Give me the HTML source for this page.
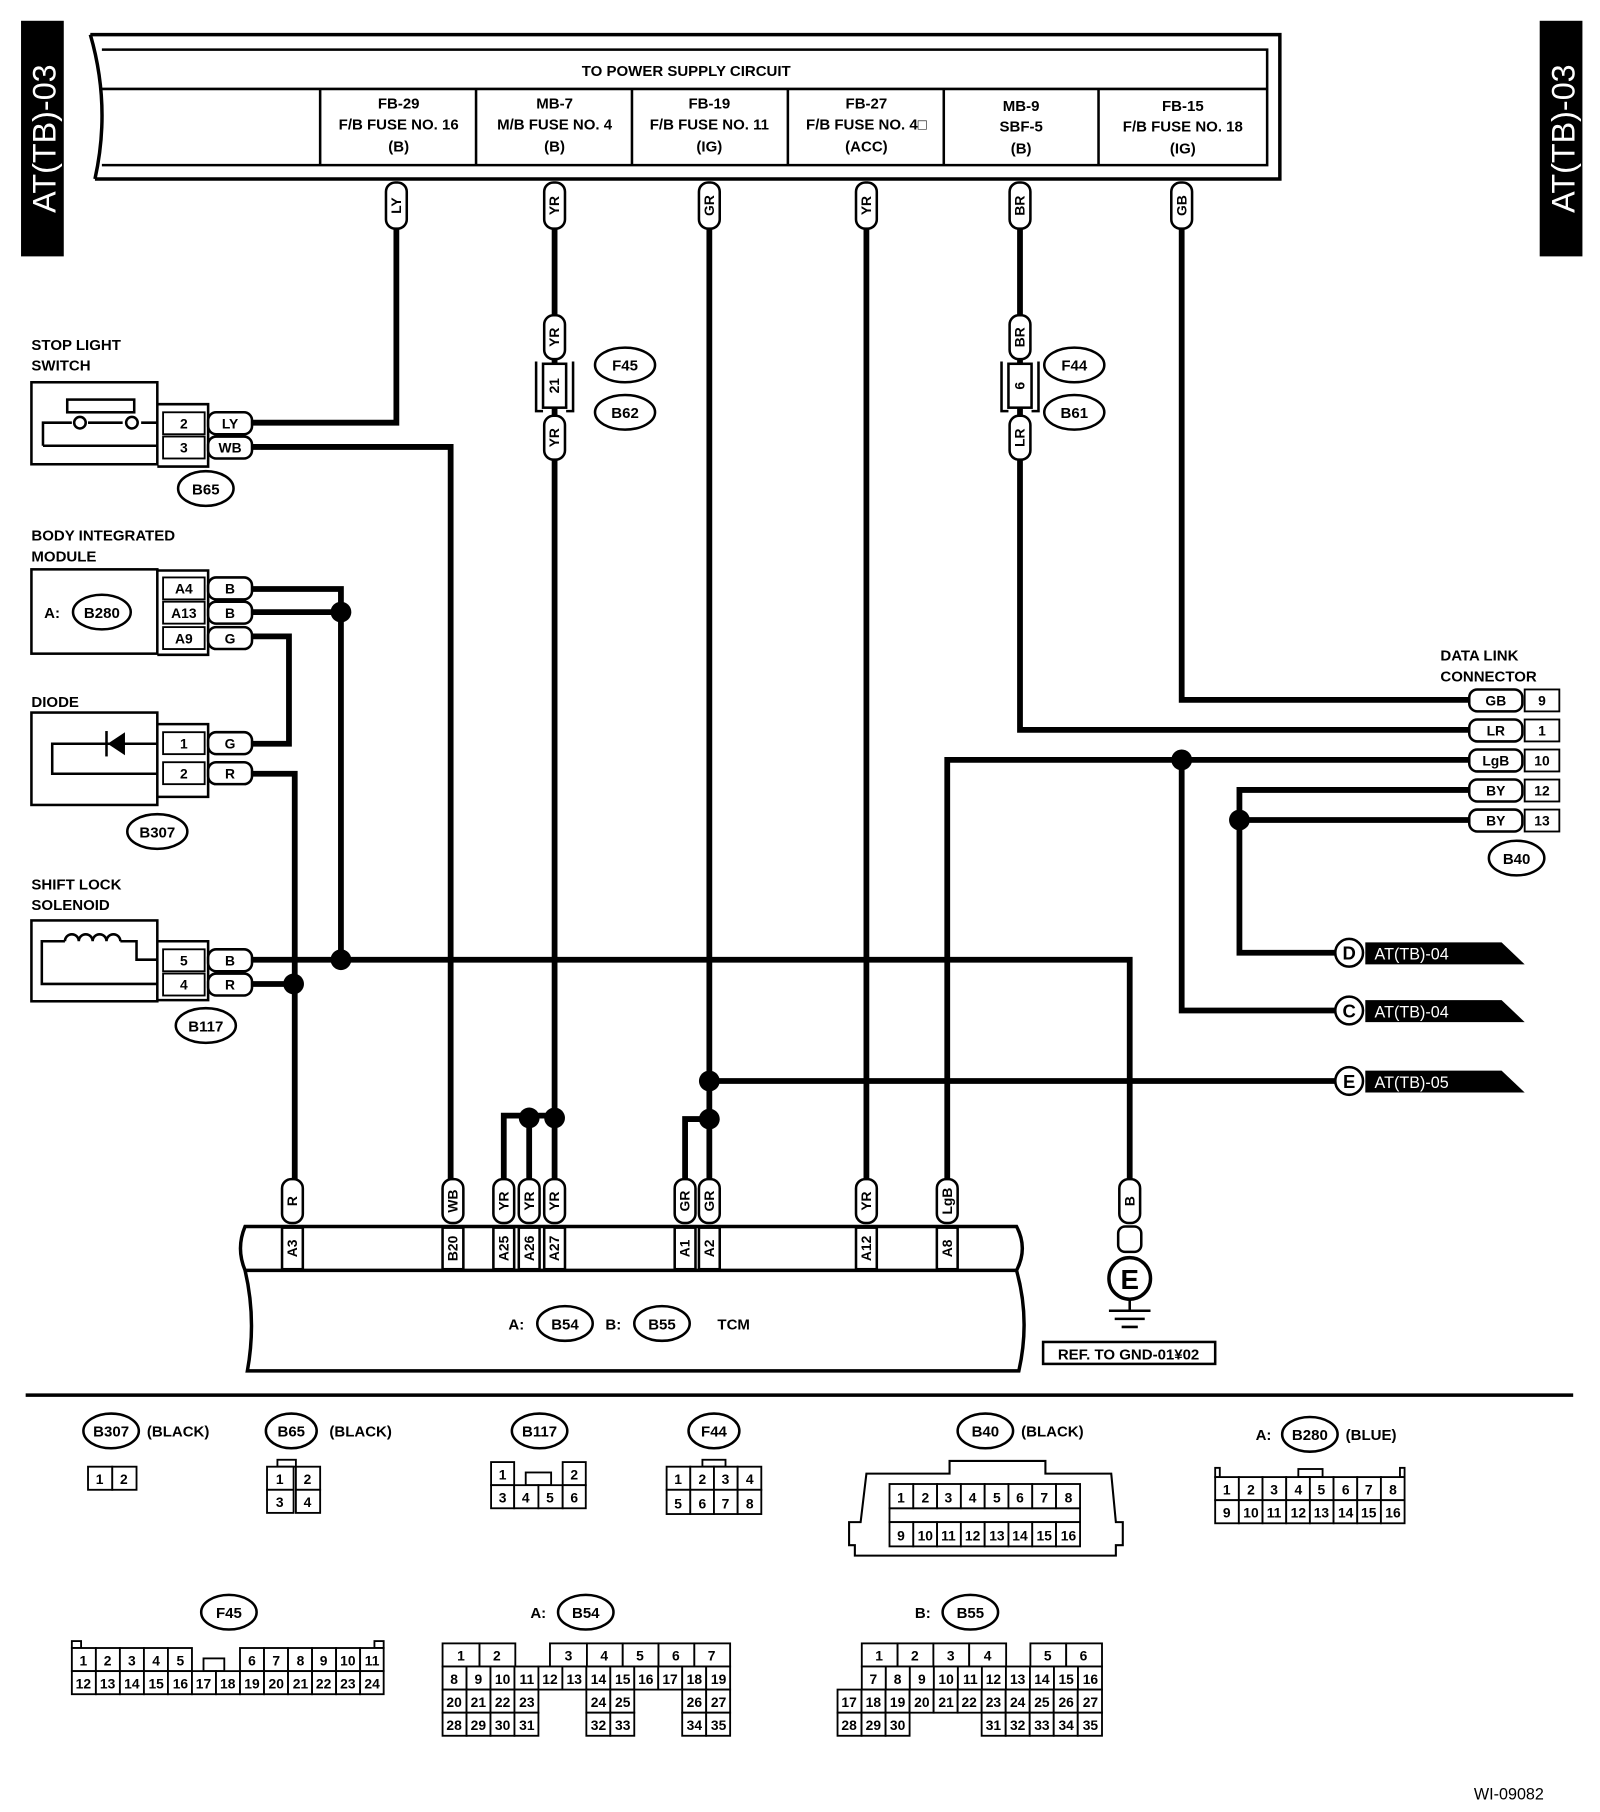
<!DOCTYPE html>
<html><head><meta charset="utf-8"><style>
html,body{margin:0;padding:0;background:#fff}
svg{display:block}
text{font-family:"Liberation Sans",sans-serif;font-weight:bold;font-size:13px;fill:#000}
.c{text-anchor:middle}
.w{stroke:#000;stroke-width:5;fill:none}
.t rect{fill:#fff;stroke:#000;stroke-width:2.2}
.t text{text-anchor:middle;font-size:12px}
.g rect{fill:#fff;stroke:#000;stroke-width:1.6}
.g text{text-anchor:middle;font-size:12px}
.o{fill:#fff;stroke:#000;stroke-width:2.2}
.b{fill:none;stroke:#000;stroke-width:2.2}
</style></head><body>
<svg width="1600" height="1812" viewBox="0 0 1385 1569" xmlns="http://www.w3.org/2000/svg">
<!-- side tabs -->
<rect x="18" y="18" width="37" height="204" fill="#000"/>
<text transform="translate(48,120) rotate(-90)" class="c" style="fill:#fff;font-size:28px;font-weight:normal">AT(TB)-03</text>
<rect x="1333" y="18" width="37" height="204" fill="#000"/>
<text transform="translate(1363,120) rotate(-90)" class="c" style="fill:#fff;font-size:28px;font-weight:normal">AT(TB)-03</text>

<!-- top power box -->
<path d="M78,30 L1108,30 L1108,155 L82,155" class="b" style="stroke-width:3"/>
<path d="M78,30 Q96,92 82,155" class="b" style="stroke-width:3"/>
<path d="M88,43 L1097,43 L1097,143 L88,143 M88,77 L1097,77" class="b"/>
<path d="M277,77V143 M412,77V143 M547,77V143 M682,77V143 M817,77V143 M951,77V143" class="b"/>
<text x="594" y="66" class="c" style="font-size:13px">TO POWER SUPPLY CIRCUIT</text>
<g style="font-size:13px">
<text x="345" y="94" class="c">FB-29</text><text x="345" y="112" class="c">F/B FUSE NO. 16</text><text x="345" y="131" class="c">(B)</text>
<text x="480" y="94" class="c">MB-7</text><text x="480" y="112" class="c">M/B FUSE NO. 4</text><text x="480" y="131" class="c">(B)</text>
<text x="614" y="94" class="c">FB-19</text><text x="614" y="112" class="c">F/B FUSE NO. 11</text><text x="614" y="131" class="c">(IG)</text>
<text x="750" y="94" class="c">FB-27</text><text x="750" y="112" class="c">F/B FUSE NO. 4□</text><text x="750" y="131" class="c">(ACC)</text>
<text x="884" y="96" class="c">MB-9</text><text x="884" y="114" class="c">SBF-5</text><text x="884" y="133" class="c">(B)</text>
<text x="1024" y="96" class="c">FB-15</text><text x="1024" y="114" class="c">F/B FUSE NO. 18</text><text x="1024" y="133" class="c">(IG)</text>
</g>

<!-- wires -->
<path class="w" d="M343,198 V366 H218"/>
<path class="w" d="M218,387 H390 V1022"/>
<path class="w" d="M480,198 V1022"/>
<path class="w" d="M614,198 V1022"/>
<path class="w" d="M750,198 V1022"/>
<path class="w" d="M883,198 V632 H1272"/>
<path class="w" d="M1023,198 V606 H1272"/>
<path class="w" d="M820,1022 V658 H1272"/>
<path class="w" d="M1023,658 V875 H1160"/>
<path class="w" d="M1272,684 H1073 V825 H1160"/>
<path class="w" d="M1272,710 H1073"/>
<path class="w" d="M614,936 H1160"/>
<path class="w" d="M593,1022 V969 H614"/>
<path class="w" d="M436,1022 V966 H480"/>
<path class="w" d="M458,1022 V966"/>
<path class="w" d="M218,510 H295 V831"/>
<path class="w" d="M218,530 H295"/>
<path class="w" d="M218,551 H250 V644 H218"/>
<path class="w" d="M218,670 H255 V1022"/>
<path class="w" d="M218,831 H978 V1022"/>
<path class="w" d="M218,852 H255"/>
<g fill="#000">
<circle cx="295" cy="530" r="9"/><circle cx="295" cy="831" r="9"/><circle cx="254" cy="852" r="9"/>
<circle cx="458" cy="968" r="9"/><circle cx="480" cy="968" r="9"/><circle cx="614" cy="936" r="9"/><circle cx="614" cy="969" r="9"/>
<circle cx="1023" cy="658" r="9"/><circle cx="1073" cy="710" r="9"/>
</g>

<!-- vertical tags -->
<g class="t">
<g transform="translate(343,178)"><rect x="-9" y="-20" width="18" height="40" rx="8"/><text transform="rotate(-90)" y="4">LY</text></g>
<g transform="translate(480,178)"><rect x="-9" y="-20" width="18" height="40" rx="8"/><text transform="rotate(-90)" y="4">YR</text></g>
<g transform="translate(614,178)"><rect x="-9" y="-20" width="18" height="40" rx="8"/><text transform="rotate(-90)" y="4">GR</text></g>
<g transform="translate(750,178)"><rect x="-9" y="-20" width="18" height="40" rx="8"/><text transform="rotate(-90)" y="4">YR</text></g>
<g transform="translate(883,178)"><rect x="-9" y="-20" width="18" height="40" rx="8"/><text transform="rotate(-90)" y="4">BR</text></g>
<g transform="translate(1023,178)"><rect x="-9" y="-20" width="18" height="40" rx="8"/><text transform="rotate(-90)" y="4">GB</text></g>
<g transform="translate(480,292)"><rect x="-9" y="-19" width="18" height="38" rx="8"/><text transform="rotate(-90)" y="4">YR</text></g>
<g transform="translate(480,379)"><rect x="-9" y="-19" width="18" height="38" rx="8"/><text transform="rotate(-90)" y="4">YR</text></g>
<g transform="translate(883,292)"><rect x="-9" y="-19" width="18" height="38" rx="8"/><text transform="rotate(-90)" y="4">BR</text></g>
<g transform="translate(883,379)"><rect x="-9" y="-19" width="18" height="38" rx="8"/><text transform="rotate(-90)" y="4">LR</text></g>
<g transform="translate(253,1040)"><rect x="-9" y="-19" width="18" height="38" rx="8"/><text transform="rotate(-90)" y="4">R</text></g>
<g transform="translate(392,1040)"><rect x="-9" y="-19" width="18" height="38" rx="8"/><text transform="rotate(-90)" y="4">WB</text></g>
<g transform="translate(436,1040)"><rect x="-9" y="-19" width="18" height="38" rx="8"/><text transform="rotate(-90)" y="4">YR</text></g>
<g transform="translate(458,1040)"><rect x="-9" y="-19" width="18" height="38" rx="8"/><text transform="rotate(-90)" y="4">YR</text></g>
<g transform="translate(480,1040)"><rect x="-9" y="-19" width="18" height="38" rx="8"/><text transform="rotate(-90)" y="4">YR</text></g>
<g transform="translate(593,1040)"><rect x="-9" y="-19" width="18" height="38" rx="8"/><text transform="rotate(-90)" y="4">GR</text></g>
<g transform="translate(614,1040)"><rect x="-9" y="-19" width="18" height="38" rx="8"/><text transform="rotate(-90)" y="4">GR</text></g>
<g transform="translate(750,1040)"><rect x="-9" y="-19" width="18" height="38" rx="8"/><text transform="rotate(-90)" y="4">YR</text></g>
<g transform="translate(820,1040)"><rect x="-9" y="-19" width="18" height="38" rx="8"/><text transform="rotate(-90)" y="4">LgB</text></g>
<g transform="translate(978,1040)"><rect x="-9" y="-19" width="18" height="38" rx="8"/><text transform="rotate(-90)" y="4">B</text></g>
</g>
<!-- F45/B62 and F44/B61 inline connectors -->
<rect x="470" y="315" width="20" height="38" class="o"/><text transform="translate(480,334) rotate(-90)" y="4" class="c" style="font-size:12px">21</text>
<path d="M464,313 V356 H470 M496,313 V356 H490" class="b"/>
<rect x="873" y="315" width="20" height="38" class="o"/><text transform="translate(883,334) rotate(-90)" y="4" class="c" style="font-size:12px">6</text>
<path d="M867,313 V356 H873 M899,313 V356 H893" class="b"/>
<g>
<ellipse cx="541" cy="316" rx="26" ry="15" class="o"/><text x="541" y="321" class="c">F45</text>
<ellipse cx="541" cy="357" rx="26" ry="15" class="o"/><text x="541" y="362" class="c">B62</text>
<ellipse cx="930" cy="316" rx="26" ry="15" class="o"/><text x="930" y="321" class="c">F44</text>
<ellipse cx="930" cy="357" rx="26" ry="15" class="o"/><text x="930" y="362" class="c">B61</text>
<ellipse cx="178" cy="423" rx="24" ry="15" class="o"/><text x="178" y="428" class="c">B65</text>
<ellipse cx="136" cy="720" rx="26" ry="15" class="o"/><text x="136" y="725" class="c">B307</text>
<ellipse cx="178" cy="888" rx="26" ry="15" class="o"/><text x="178" y="893" class="c">B117</text>
<ellipse cx="1313" cy="743" rx="24" ry="15" class="o"/><text x="1313" y="748" class="c">B40</text>
</g>

<!-- Stop light switch -->
<text x="27" y="303">STOP LIGHT</text><text x="27" y="321">SWITCH</text>
<rect x="27" y="331" width="109" height="71" class="o"/>
<rect x="58" y="346" width="58" height="11" class="o"/>
<path d="M37,386 V366 H62 M76,366 H106 M122,366 H136 M37,386 H136" class="b"/>
<circle cx="69" cy="366" r="5" class="o"/><circle cx="114" cy="366" r="5" class="o"/>
<path d="M136,350 H180 V404 H136" class="b"/>
<g class="g"><rect x="141" y="357" width="36" height="19"/><text x="159" y="371">2</text><rect x="141" y="378" width="36" height="19"/><text x="159" y="392">3</text></g>
<g class="t"><rect x="180" y="357" width="38" height="19" rx="7"/><text x="199" y="371">LY</text><rect x="180" y="378" width="38" height="19" rx="7"/><text x="199" y="392">WB</text></g>

<!-- BIM -->
<text x="27" y="468">BODY INTEGRATED</text><text x="27" y="486">MODULE</text>
<rect x="27" y="493" width="109" height="73" class="o"/>
<text x="38" y="535">A:</text><ellipse cx="88" cy="530" rx="25" ry="15" class="o"/><text x="88" y="535" class="c">B280</text>
<path d="M136,494 H180 V567 H136" class="b"/>
<g class="g"><rect x="141" y="500" width="36" height="19"/><text x="159" y="514">A4</text><rect x="141" y="521" width="36" height="19"/><text x="159" y="535">A13</text><rect x="141" y="543" width="36" height="19"/><text x="159" y="557">A9</text></g>
<g class="t"><rect x="180" y="500" width="38" height="19" rx="7"/><text x="199" y="514">B</text><rect x="180" y="521" width="38" height="19" rx="7"/><text x="199" y="535">B</text><rect x="180" y="543" width="38" height="19" rx="7"/><text x="199" y="557">G</text></g>

<!-- Diode -->
<text x="27" y="612">DIODE</text>
<rect x="27" y="617" width="109" height="80" class="o"/>
<path d="M136,644 H90 M106,644 H45 V670 H136" class="b"/>
<polygon points="108,634 108,654 93,644" fill="#000"/><path d="M92,633 V655" class="b"/>
<path d="M136,627 H180 V690 H136" class="b"/>
<g class="g"><rect x="141" y="634" width="36" height="19"/><text x="159" y="648">1</text><rect x="141" y="660" width="36" height="19"/><text x="159" y="674">2</text></g>
<g class="t"><rect x="180" y="634" width="38" height="19" rx="7"/><text x="199" y="648">G</text><rect x="180" y="660" width="38" height="19" rx="7"/><text x="199" y="674">R</text></g>

<!-- Shift lock solenoid -->
<text x="27" y="770">SHIFT LOCK</text><text x="27" y="788">SOLENOID</text>
<rect x="27" y="797" width="109" height="70" class="o"/>
<path d="M136,831 H118 V815 H104 M56,815 H36 V852 H136" class="b"/>
<path d="M56,815 a6,6 0 0 1 12,0 a6,6 0 0 1 12,0 a6,6 0 0 1 12,0 a6,6 0 0 1 12,0" class="b"/>
<path d="M136,815 H180 V866 H136" class="b"/>
<g class="g"><rect x="141" y="822" width="36" height="19"/><text x="159" y="836">5</text><rect x="141" y="843" width="36" height="19"/><text x="159" y="857">4</text></g>
<g class="t"><rect x="180" y="822" width="38" height="19" rx="7"/><text x="199" y="836">B</text><rect x="180" y="843" width="38" height="19" rx="7"/><text x="199" y="857">R</text></g>

<!-- Data link connector -->
<text x="1247" y="572">DATA LINK</text><text x="1247" y="590">CONNECTOR</text>
<g class="t">
<rect x="1272" y="597" width="46" height="19" rx="7"/><text x="1295" y="611">GB</text>
<rect x="1272" y="623" width="46" height="19" rx="7"/><text x="1295" y="637">LR</text>
<rect x="1272" y="649" width="46" height="19" rx="7"/><text x="1295" y="663">LgB</text>
<rect x="1272" y="675" width="46" height="19" rx="7"/><text x="1295" y="689">BY</text>
<rect x="1272" y="701" width="46" height="19" rx="7"/><text x="1295" y="715">BY</text>
</g>
<g class="g">
<rect x="1320" y="597" width="30" height="19"/><text x="1335" y="611">9</text>
<rect x="1320" y="623" width="30" height="19"/><text x="1335" y="637">1</text>
<rect x="1320" y="649" width="30" height="19"/><text x="1335" y="663">10</text>
<rect x="1320" y="675" width="30" height="19"/><text x="1335" y="689">12</text>
<rect x="1320" y="701" width="30" height="19"/><text x="1335" y="715">13</text>
</g>

<!-- outputs -->
<g>
<polygon points="1182,816 1300,816 1320,835 1182,835" fill="#000"/><circle cx="1168" cy="825" r="12" class="o"/><text x="1168" y="831" class="c" style="font-size:16px">D</text><text x="1190" y="831" style="fill:#fff;font-weight:normal;font-size:14px">AT(TB)-04</text>
<polygon points="1182,866 1300,866 1320,885 1182,885" fill="#000"/><circle cx="1168" cy="875" r="12" class="o"/><text x="1168" y="881" class="c" style="font-size:16px">C</text><text x="1190" y="881" style="fill:#fff;font-weight:normal;font-size:14px">AT(TB)-04</text>
<polygon points="1182,927 1300,927 1320,946 1182,946" fill="#000"/><circle cx="1168" cy="936" r="12" class="o"/><text x="1168" y="942" class="c" style="font-size:16px">E</text><text x="1190" y="942" style="fill:#fff;font-weight:normal;font-size:14px">AT(TB)-05</text>
</g>

<!-- ground -->
<rect x="968" y="1062" width="20" height="22" rx="6" class="o"/>
<circle cx="978" cy="1107" r="18" class="o" style="stroke-width:3"/><text x="978" y="1116" class="c" style="font-size:24px">E</text>
<path d="M978,1125 V1135 M960,1135 H996 M965,1142 H991 M971,1149 H985" class="b"/>
<rect x="903" y="1162" width="149" height="19" class="o"/><text x="977" y="1177" class="c" style="font-size:13px">REF. TO GND-01¥02</text>

<!-- TCM -->
<path d="M212,1062 L880,1062 Q890,1081 880,1100 L212,1100 Q204,1081 212,1062 Z" class="o" style="stroke-width:3"/>
<path d="M212,1100 Q222,1143 214,1187 L882,1187 Q892,1143 880,1100" class="b" style="stroke-width:3"/>
<g class="t">
<g transform="translate(253,1081)"><rect x="-9" y="-18" width="18" height="36"/><text transform="rotate(-90)" y="4">A3</text></g>
<g transform="translate(392,1081)"><rect x="-9" y="-18" width="18" height="36"/><text transform="rotate(-90)" y="4">B20</text></g>
<g transform="translate(436,1081)"><rect x="-9" y="-18" width="18" height="36"/><text transform="rotate(-90)" y="4">A25</text></g>
<g transform="translate(458,1081)"><rect x="-9" y="-18" width="18" height="36"/><text transform="rotate(-90)" y="4">A26</text></g>
<g transform="translate(480,1081)"><rect x="-9" y="-18" width="18" height="36"/><text transform="rotate(-90)" y="4">A27</text></g>
<g transform="translate(593,1081)"><rect x="-9" y="-18" width="18" height="36"/><text transform="rotate(-90)" y="4">A1</text></g>
<g transform="translate(614,1081)"><rect x="-9" y="-18" width="18" height="36"/><text transform="rotate(-90)" y="4">A2</text></g>
<g transform="translate(750,1081)"><rect x="-9" y="-18" width="18" height="36"/><text transform="rotate(-90)" y="4">A12</text></g>
<g transform="translate(820,1081)"><rect x="-9" y="-18" width="18" height="36"/><text transform="rotate(-90)" y="4">A8</text></g>
</g>
<text x="440" y="1151">A:</text><ellipse cx="489" cy="1146" rx="24" ry="15" class="o"/><text x="489" y="1151" class="c">B54</text>
<text x="524" y="1151">B:</text><ellipse cx="573" cy="1146" rx="24" ry="15" class="o"/><text x="573" y="1151" class="c">B55</text>
<text x="621" y="1151">TCM</text>

<line x1="22" y1="1208" x2="1362" y2="1208" stroke="#000" stroke-width="3"/>

<!-- bottom connector labels -->
<ellipse cx="96" cy="1239" rx="24" ry="15" class="o"/><text x="96" y="1244" class="c">B307</text><text x="127" y="1244">(BLACK)</text>
<ellipse cx="252" cy="1239" rx="22" ry="15" class="o"/><text x="252" y="1244" class="c">B65</text><text x="285" y="1244">(BLACK)</text>
<ellipse cx="467" cy="1239" rx="24" ry="15" class="o"/><text x="467" y="1244" class="c">B117</text>
<ellipse cx="618" cy="1239" rx="22" ry="15" class="o"/><text x="618" y="1244" class="c">F44</text>
<ellipse cx="853" cy="1239" rx="24" ry="15" class="o"/><text x="853" y="1244" class="c">B40</text><text x="884" y="1244">(BLACK)</text>
<text x="1087" y="1247">A:</text><ellipse cx="1134" cy="1242" rx="24" ry="15" class="o"/><text x="1134" y="1247" class="c">B280</text><text x="1165" y="1247">(BLUE)</text>
<ellipse cx="198" cy="1396" rx="24" ry="15" class="o"/><text x="198" y="1401" class="c">F45</text>
<text x="459" y="1401">A:</text><ellipse cx="507" cy="1396" rx="24" ry="15" class="o"/><text x="507" y="1401" class="c">B54</text>
<text x="792" y="1401">B:</text><ellipse cx="840" cy="1396" rx="24" ry="15" class="o"/><text x="840" y="1401" class="c">B55</text>

<g class="g">
<!-- B307 -->
<rect x="76" y="1270" width="21" height="20"/><text x="86" y="1285">1</text><rect x="97" y="1270" width="21" height="20"/><text x="107" y="1285">2</text>
<!-- B65 -->
<rect x="240" y="1264" width="16" height="6"/>
<rect x="231" y="1270" width="23" height="20"/><text x="242" y="1285">1</text><rect x="256" y="1270" width="21" height="20"/><text x="266" y="1285">2</text>
<rect x="231" y="1290" width="23" height="20"/><text x="242" y="1305">3</text><rect x="256" y="1290" width="21" height="20"/><text x="266" y="1305">4</text>
<!-- B117 -->
<rect x="425" y="1266" width="20" height="20"/><text x="435" y="1281">1</text>
<rect x="487" y="1266" width="20" height="20"/><text x="497" y="1281">2</text>
<rect x="455" y="1275" width="22" height="11"/>
<rect x="425" y="1286" width="20" height="20"/><text x="435" y="1301">3</text><rect x="445" y="1286" width="21" height="20"/><text x="455" y="1301">4</text><rect x="466" y="1286" width="21" height="20"/><text x="476" y="1301">5</text><rect x="487" y="1286" width="20" height="20"/><text x="497" y="1301">6</text>
<!-- F44 -->
<rect x="608" y="1264" width="20" height="6"/>
<rect x="577" y="1270" width="20.5" height="20"/><text x="587" y="1285">1</text><rect x="597.5" y="1270" width="20.5" height="20"/><text x="608" y="1285">2</text><rect x="618" y="1270" width="20.5" height="20"/><text x="628" y="1285">3</text><rect x="638.5" y="1270" width="20.5" height="20"/><text x="649" y="1285">4</text>
<rect x="577" y="1290" width="20.5" height="21"/><text x="587" y="1306">5</text><rect x="597.5" y="1290" width="20.5" height="21"/><text x="608" y="1306">6</text><rect x="618" y="1290" width="20.5" height="21"/><text x="628" y="1306">7</text><rect x="638.5" y="1290" width="20.5" height="21"/><text x="649" y="1306">8</text>
</g>
<!-- B40 -->
<polygon points="735,1318 745,1318 750,1276 822,1276 822,1265 905,1265 905,1276 962,1276 966,1318 972,1318 972,1338 966,1338 966,1347 740,1347 740,1338 735,1338" class="o" style="stroke-width:1.8"/>
<g class="g">
<rect x="770" y="1306" width="165" height="12"/>
<rect x="770" y="1285" width="20.6" height="21"/><text x="780" y="1301">1</text><rect x="790.6" y="1285" width="20.6" height="21"/><text x="801" y="1301">2</text><rect x="811.2" y="1285" width="20.6" height="21"/><text x="821" y="1301">3</text><rect x="831.8" y="1285" width="20.6" height="21"/><text x="842" y="1301">4</text><rect x="852.4" y="1285" width="20.6" height="21"/><text x="863" y="1301">5</text><rect x="873" y="1285" width="20.6" height="21"/><text x="883" y="1301">6</text><rect x="893.6" y="1285" width="20.6" height="21"/><text x="904" y="1301">7</text><rect x="914.2" y="1285" width="20.8" height="21"/><text x="925" y="1301">8</text>
<rect x="770" y="1318" width="20.6" height="21"/><text x="780" y="1334">9</text><rect x="790.6" y="1318" width="20.6" height="21"/><text x="801" y="1334">10</text><rect x="811.2" y="1318" width="20.6" height="21"/><text x="821" y="1334">11</text><rect x="831.8" y="1318" width="20.6" height="21"/><text x="842" y="1334">12</text><rect x="852.4" y="1318" width="20.6" height="21"/><text x="863" y="1334">13</text><rect x="873" y="1318" width="20.6" height="21"/><text x="883" y="1334">14</text><rect x="893.6" y="1318" width="20.6" height="21"/><text x="904" y="1334">15</text><rect x="914.2" y="1318" width="20.8" height="21"/><text x="925" y="1334">16</text>
<!-- B280 -->
<rect x="1052" y="1271" width="4" height="8"/><rect x="1212" y="1271" width="4" height="8"/><rect x="1124" y="1272" width="21" height="7"/>
<rect x="1052" y="1279" width="20.5" height="20"/><text x="1062" y="1294">1</text><rect x="1072.5" y="1279" width="20.5" height="20"/><text x="1083" y="1294">2</text><rect x="1093" y="1279" width="20.5" height="20"/><text x="1103" y="1294">3</text><rect x="1113.5" y="1279" width="20.5" height="20"/><text x="1124" y="1294">4</text><rect x="1134" y="1279" width="20.5" height="20"/><text x="1144" y="1294">5</text><rect x="1154.5" y="1279" width="20.5" height="20"/><text x="1165" y="1294">6</text><rect x="1175" y="1279" width="20.5" height="20"/><text x="1185" y="1294">7</text><rect x="1195.5" y="1279" width="20.5" height="20"/><text x="1206" y="1294">8</text>
<rect x="1052" y="1299" width="20.5" height="20"/><text x="1062" y="1314">9</text><rect x="1072.5" y="1299" width="20.5" height="20"/><text x="1083" y="1314">10</text><rect x="1093" y="1299" width="20.5" height="20"/><text x="1103" y="1314">11</text><rect x="1113.5" y="1299" width="20.5" height="20"/><text x="1124" y="1314">12</text><rect x="1134" y="1299" width="20.5" height="20"/><text x="1144" y="1314">13</text><rect x="1154.5" y="1299" width="20.5" height="20"/><text x="1165" y="1314">14</text><rect x="1175" y="1299" width="20.5" height="20"/><text x="1185" y="1314">15</text><rect x="1195.5" y="1299" width="20.5" height="20"/><text x="1206" y="1314">16</text>

<!-- F45 -->
<rect x="62" y="1421" width="8" height="6"/><rect x="324" y="1421" width="8" height="6"/><rect x="176" y="1436" width="18" height="11"/>
<rect x="62" y="1427" width="20.8" height="20"/><text x="72" y="1442">1</text><rect x="82.8" y="1427" width="20.8" height="20"/><text x="93" y="1442">2</text><rect x="103.6" y="1427" width="20.8" height="20"/><text x="114" y="1442">3</text><rect x="124.4" y="1427" width="20.8" height="20"/><text x="135" y="1442">4</text><rect x="145.2" y="1427" width="20.8" height="20"/><text x="156" y="1442">5</text>
<rect x="207.6" y="1427" width="20.8" height="20"/><text x="218" y="1442">6</text><rect x="228.4" y="1427" width="20.8" height="20"/><text x="239" y="1442">7</text><rect x="249.2" y="1427" width="20.8" height="20"/><text x="260" y="1442">8</text><rect x="270" y="1427" width="20.8" height="20"/><text x="280" y="1442">9</text><rect x="290.8" y="1427" width="20.8" height="20"/><text x="301" y="1442">10</text><rect x="311.6" y="1427" width="20.4" height="20"/><text x="322" y="1442">11</text>
<rect x="62" y="1447" width="20.8" height="20"/><text x="72" y="1462">12</text><rect x="82.8" y="1447" width="20.8" height="20"/><text x="93" y="1462">13</text><rect x="103.6" y="1447" width="20.8" height="20"/><text x="114" y="1462">14</text><rect x="124.4" y="1447" width="20.8" height="20"/><text x="135" y="1462">15</text><rect x="145.2" y="1447" width="20.8" height="20"/><text x="156" y="1462">16</text><rect x="166" y="1447" width="20.8" height="20"/><text x="176" y="1462">17</text><rect x="186.8" y="1447" width="20.8" height="20"/><text x="197" y="1462">18</text><rect x="207.6" y="1447" width="20.8" height="20"/><text x="218" y="1462">19</text><rect x="228.4" y="1447" width="20.8" height="20"/><text x="239" y="1462">20</text><rect x="249.2" y="1447" width="20.8" height="20"/><text x="260" y="1462">21</text><rect x="270" y="1447" width="20.8" height="20"/><text x="280" y="1462">22</text><rect x="290.8" y="1447" width="20.8" height="20"/><text x="301" y="1462">23</text><rect x="311.6" y="1447" width="20.4" height="20"/><text x="322" y="1462">24</text>

<!-- B54 -->
<rect x="383" y="1423" width="32" height="20"/><text x="399" y="1438">1</text><rect x="415" y="1423" width="31" height="20"/><text x="430" y="1438">2</text>
<rect x="476" y="1423" width="32" height="20"/><text x="492" y="1438">3</text><rect x="508" y="1423" width="31" height="20"/><text x="523" y="1438">4</text><rect x="539" y="1423" width="31" height="20"/><text x="554" y="1438">5</text><rect x="570" y="1423" width="31" height="20"/><text x="585" y="1438">6</text><rect x="601" y="1423" width="31" height="20"/><text x="616" y="1438">7</text>
<rect x="383" y="1443" width="20.75" height="20"/><text x="393" y="1458">8</text><rect x="403.75" y="1443" width="20.75" height="20"/><text x="414" y="1458">9</text><rect x="424.5" y="1443" width="20.75" height="20"/><text x="435" y="1458">10</text><rect x="445.25" y="1443" width="20.75" height="20"/><text x="456" y="1458">11</text><rect x="466" y="1443" width="20.75" height="20"/><text x="476" y="1458">12</text><rect x="486.75" y="1443" width="20.75" height="20"/><text x="497" y="1458">13</text><rect x="507.5" y="1443" width="20.75" height="20"/><text x="518" y="1458">14</text><rect x="528.25" y="1443" width="20.75" height="20"/><text x="539" y="1458">15</text><rect x="549" y="1443" width="20.75" height="20"/><text x="559" y="1458">16</text><rect x="569.75" y="1443" width="20.75" height="20"/><text x="580" y="1458">17</text><rect x="590.5" y="1443" width="20.75" height="20"/><text x="601" y="1458">18</text><rect x="611.25" y="1443" width="20.75" height="20"/><text x="622" y="1458">19</text>
<rect x="383" y="1463" width="20.75" height="20"/><text x="393" y="1478">20</text><rect x="403.75" y="1463" width="20.75" height="20"/><text x="414" y="1478">21</text><rect x="424.5" y="1463" width="20.75" height="20"/><text x="435" y="1478">22</text><rect x="445.25" y="1463" width="20.75" height="20"/><text x="456" y="1478">23</text><rect x="507.5" y="1463" width="20.75" height="20"/><text x="518" y="1478">24</text><rect x="528.25" y="1463" width="20.75" height="20"/><text x="539" y="1478">25</text><rect x="590.5" y="1463" width="20.75" height="20"/><text x="601" y="1478">26</text><rect x="611.25" y="1463" width="20.75" height="20"/><text x="622" y="1478">27</text>
<rect x="383" y="1483" width="20.75" height="20"/><text x="393" y="1498">28</text><rect x="403.75" y="1483" width="20.75" height="20"/><text x="414" y="1498">29</text><rect x="424.5" y="1483" width="20.75" height="20"/><text x="435" y="1498">30</text><rect x="445.25" y="1483" width="20.75" height="20"/><text x="456" y="1498">31</text><rect x="507.5" y="1483" width="20.75" height="20"/><text x="518" y="1498">32</text><rect x="528.25" y="1483" width="20.75" height="20"/><text x="539" y="1498">33</text><rect x="590.5" y="1483" width="20.75" height="20"/><text x="601" y="1498">34</text><rect x="611.25" y="1483" width="20.75" height="20"/><text x="622" y="1498">35</text>

<!-- B55 -->
<rect x="746" y="1423" width="31" height="20"/><text x="761" y="1438">1</text><rect x="777" y="1423" width="31" height="20"/><text x="792" y="1438">2</text><rect x="808" y="1423" width="31" height="20"/><text x="823" y="1438">3</text><rect x="839" y="1423" width="32" height="20"/><text x="855" y="1438">4</text>
<rect x="892" y="1423" width="31" height="20"/><text x="907" y="1438">5</text><rect x="923" y="1423" width="31" height="20"/><text x="938" y="1438">6</text>
<rect x="746" y="1443" width="20.8" height="20"/><text x="756" y="1458">7</text><rect x="766.8" y="1443" width="20.8" height="20"/><text x="777" y="1458">8</text><rect x="787.6" y="1443" width="20.8" height="20"/><text x="798" y="1458">9</text><rect x="808.4" y="1443" width="20.8" height="20"/><text x="819" y="1458">10</text><rect x="829.2" y="1443" width="20.8" height="20"/><text x="840" y="1458">11</text><rect x="850" y="1443" width="20.8" height="20"/><text x="860" y="1458">12</text><rect x="870.8" y="1443" width="20.8" height="20"/><text x="881" y="1458">13</text><rect x="891.6" y="1443" width="20.8" height="20"/><text x="902" y="1458">14</text><rect x="912.4" y="1443" width="20.8" height="20"/><text x="923" y="1458">15</text><rect x="933.2" y="1443" width="20.8" height="20"/><text x="944" y="1458">16</text>
<rect x="725" y="1463" width="20.8" height="20"/><text x="735" y="1478">17</text><rect x="745.8" y="1463" width="20.8" height="20"/><text x="756" y="1478">18</text><rect x="766.6" y="1463" width="20.8" height="20"/><text x="777" y="1478">19</text><rect x="787.4" y="1463" width="20.8" height="20"/><text x="798" y="1478">20</text><rect x="808.2" y="1463" width="20.8" height="20"/><text x="819" y="1478">21</text><rect x="829" y="1463" width="20.8" height="20"/><text x="839" y="1478">22</text><rect x="849.8" y="1463" width="20.8" height="20"/><text x="860" y="1478">23</text><rect x="870.6" y="1463" width="20.8" height="20"/><text x="881" y="1478">24</text><rect x="891.4" y="1463" width="20.8" height="20"/><text x="902" y="1478">25</text><rect x="912.2" y="1463" width="20.8" height="20"/><text x="923" y="1478">26</text><rect x="933" y="1463" width="21" height="20"/><text x="944" y="1478">27</text>
<rect x="725" y="1483" width="20.8" height="20"/><text x="735" y="1498">28</text><rect x="745.8" y="1483" width="20.8" height="20"/><text x="756" y="1498">29</text><rect x="766.6" y="1483" width="20.8" height="20"/><text x="777" y="1498">30</text>
<rect x="849.8" y="1483" width="20.8" height="20"/><text x="860" y="1498">31</text><rect x="870.6" y="1483" width="20.8" height="20"/><text x="881" y="1498">32</text><rect x="891.4" y="1483" width="20.8" height="20"/><text x="902" y="1498">33</text><rect x="912.2" y="1483" width="20.8" height="20"/><text x="923" y="1498">34</text><rect x="933" y="1483" width="21" height="20"/><text x="944" y="1498">35</text>
</g>

<text x="1276" y="1558" style="font-size:14px;font-weight:normal">WI-09082</text>
</svg>
</body></html>
